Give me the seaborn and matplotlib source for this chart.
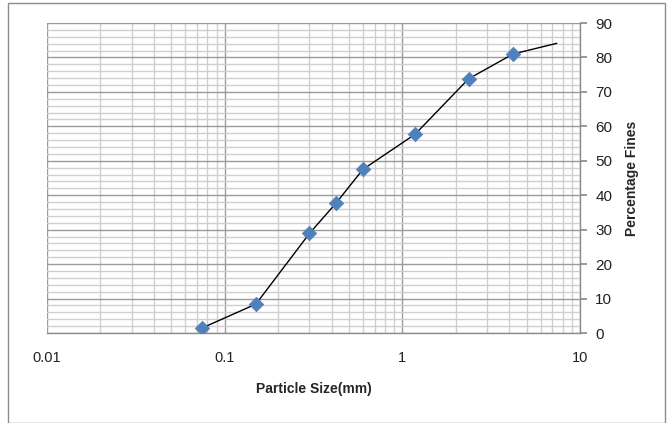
import matplotlib
matplotlib.use("Agg")
import matplotlib.pyplot as plt
import seaborn as sns
import pandas as pd
import numpy as np
from matplotlib.ticker import LogLocator, FixedLocator, NullFormatter, MultipleLocator
from matplotlib.patches import Rectangle

sns.set_theme(style="white")
plt.rcParams['font.family'] = ['Liberation Sans', 'DejaVu Sans']

# Data
sieve_size = [0.075, 0.15, 0.30, 0.425, 0.60, 1.18, 2.36, 4.2]
pct_fines = [1.5, 8.4, 28.9, 37.8, 47.5, 57.7, 73.8, 81.0]
line_size = [0.075, 0.15, 0.30, 0.425, 0.60, 1.18, 2.36, 4.2, 7.4]
line_fines = [1.5, 8.4, 28.9, 37.8, 47.5, 57.7, 73.8, 81.0, 84.1]
x_ticks = [0.01, 0.1, 1, 10]
x_tick_labels = ["0.01", "0.1", "1", "10"]
y_ticks = [0, 10, 20, 30, 40, 50, 60, 70, 80, 90]

df_pts = pd.DataFrame({"size": sieve_size, "fines": pct_fines})
df_line = pd.DataFrame({"size": line_size, "fines": line_fines})

fig = plt.figure(figsize=(6.71, 4.23), dpi=100)
ax = fig.add_axes([47/671, 1-333/423, (580-47)/671, (333-23)/423])

# outer chart border
fig.patches.append(Rectangle((8/671, 0), (665-8)/671, 1-3/423, transform=fig.transFigure,
                             fill=False, edgecolor="#8c8c8c", linewidth=1.0))

ax.set_xscale("log")
ax.set_xlim(0.01, 10)
ax.set_ylim(0, 90)

# grid
ax.xaxis.set_major_locator(FixedLocator(x_ticks))
ax.xaxis.set_minor_locator(LogLocator(base=10, subs=np.arange(2, 10)))
ax.xaxis.set_minor_formatter(NullFormatter())
ax.yaxis.set_major_locator(FixedLocator(y_ticks))
ax.yaxis.set_minor_locator(MultipleLocator(2))
ax.grid(which="major", color="#9a9a9a", linewidth=1.0)
ax.grid(which="minor", color="#cfcfcf", linewidth=1.0)
ax.set_axisbelow(True)

sns.lineplot(data=df_line, x="size", y="fines", ax=ax, color="black", linewidth=1.0,
             estimator=None, sort=False, zorder=3)
sns.scatterplot(data=df_pts, x="size", y="fines", ax=ax, marker="D", s=55,
                color="#4f81bd", edgecolor="#4f81bd", linewidth=0.5, zorder=4)

ax.set_xticks(x_ticks)
ax.set_xticklabels(x_tick_labels)
ax.yaxis.tick_right()
ax.yaxis.set_label_position("right")

for s in ["top", "left"]:
    ax.spines[s].set_visible(False)
ax.spines["right"].set_visible(True)
ax.spines["bottom"].set_visible(True)
ax.spines["right"].set_color("#8c8c8c")
ax.spines["bottom"].set_color("#8c8c8c")
ax.spines["right"].set_linewidth(1.0)
ax.spines["bottom"].set_linewidth(1.0)

ax.tick_params(axis="x", which="major", direction="inout", length=6, color="#8c8c8c",
               labelsize=10.5, pad=10, labelcolor="#222222")
ax.tick_params(axis="x", which="minor", direction="inout", length=4, color="#8c8c8c")
ax.tick_params(axis="y", which="major", direction="out", length=5, color="#8c8c8c",
               labelsize=11, pad=6, labelcolor="#222222", right=True, left=False)
ax.tick_params(axis="y", which="minor", length=0)

ax.set_xlabel("Particle Size(mm)", fontsize=10, fontweight="bold", labelpad=12)
ax.set_ylabel("Percentage Fines", fontsize=10, fontweight="bold", labelpad=9)

fig.savefig("out.png", dpi=100)
